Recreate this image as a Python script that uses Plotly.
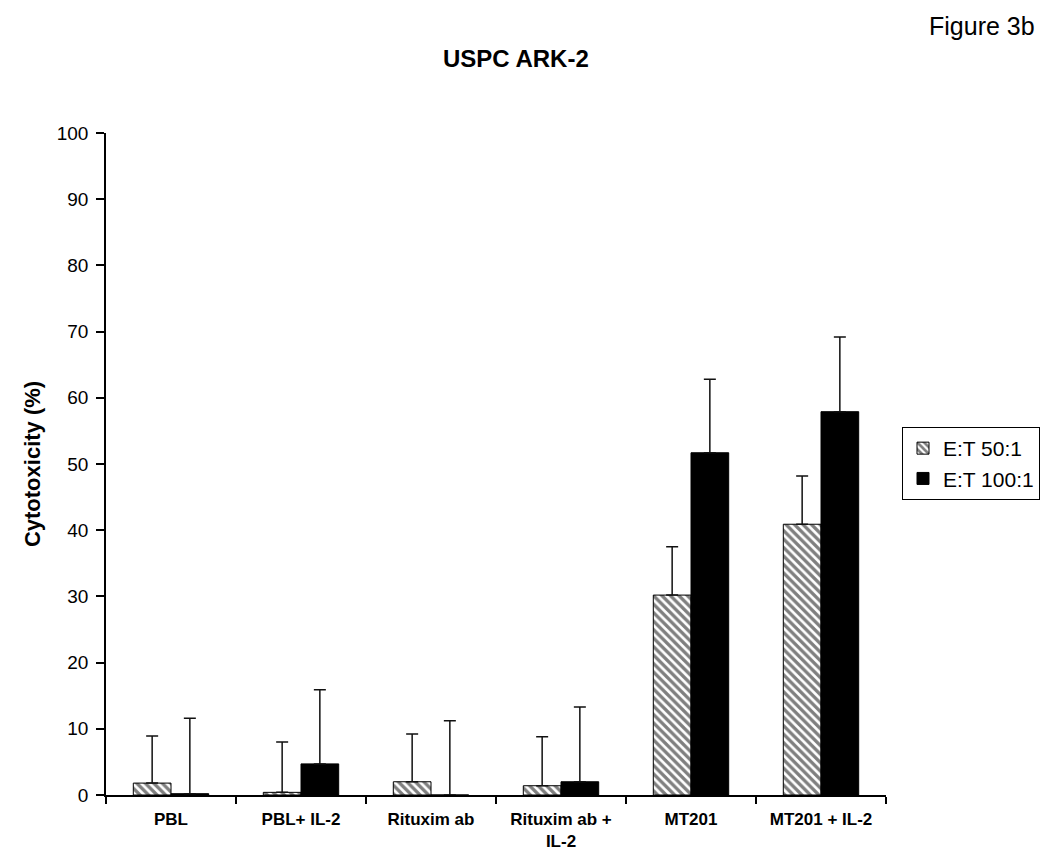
import plotly.graph_objects as go

# --- Data ---
categories = ["PBL", "PBL+ IL-2", "Rituxim ab", "Rituxim ab +<br>IL-2", "MT201", "MT201 + IL-2"]
et50 = [1.8, 0.4, 2.0, 1.4, 30.2, 40.9]
et50_err = [7.1, 7.6, 7.2, 7.4, 7.3, 7.3]
et100 = [0.2, 4.7, 0.0, 2.0, 51.7, 57.9]
et100_err = [11.4, 11.2, 11.2, 11.3, 11.1, 11.3]
y_ticks = [0, 10, 20, 30, 40, 50, 60, 70, 80, 90, 100]

FONT = "Liberation Sans, Arial, sans-serif"

# page body has an 8px margin, so plot area pixels are offset by that
PX0, PY0, PW, PH = 106, 795, 780, 662   # plot area in the screenshot


def px(x):
    return (x - PX0) / PW


def py(y):
    return (PY0 - y) / PH


fig = go.Figure()
fig.add_bar(
    x=categories, y=et50, name="E:T 50:1",
    marker=dict(color="white", line=dict(color="black", width=1),
                pattern=dict(shape="\\", fgcolor="black", bgcolor="white", size=6, solidity=0.55)),
    error_y=dict(type="data", array=et50_err, symmetric=False, arrayminus=[0] * 6,
                 color="#111", thickness=1.5, width=6),
)
fig.add_bar(
    x=categories, y=et100, name="E:T 100:1",
    marker=dict(color="black", line=dict(color="black", width=1)),
    error_y=dict(type="data", array=et100_err, symmetric=False, arrayminus=[0] * 6,
                 color="#111", thickness=1.5, width=6),
)

fig.update_layout(
    width=1050, height=866,
    plot_bgcolor="white", paper_bgcolor="white",
    barmode="group", bargap=0.42, bargroupgap=0,
    margin=dict(l=98, r=172, t=125, b=79),
    font=dict(family=FONT, color="black"),
    showlegend=True,
    legend=dict(x=px(902), y=py(427), xanchor="left", yanchor="top",
                bordercolor="black", borderwidth=1, bgcolor="white",
                font=dict(size=21, family=FONT), itemwidth=30, tracegroupgap=0),
    annotations=[
        dict(text="<b>USPC ARK-2</b>", x=px(516), y=py(58), xref="paper", yref="paper",
             yanchor="middle", showarrow=False, font=dict(size=24, family=FONT)),
        dict(text="Figure 3b", x=px(1036), y=py(26), xref="paper", yref="paper",
             xanchor="right", yanchor="middle", showarrow=False, borderpad=0,
             font=dict(size=25, family=FONT)),
    ],
)

fig.update_xaxes(
    showline=True, linecolor="black", linewidth=1.5,
    ticks="outside", tickson="boundaries", ticklen=7, tickcolor="black", tickwidth=1.5,
    tickfont=dict(size=17, family=FONT), showgrid=False, ticklabelstandoff=8,
    tickprefix="<b>", ticksuffix="</b>",
)
fig.update_yaxes(
    range=[0, 100], tickvals=y_ticks, showline=True, linecolor="black", linewidth=1.5,
    ticks="outside", ticklen=8, tickcolor="black", tickwidth=1.5, showgrid=False,
    tickfont=dict(size=19, family=FONT), tickprefix="<b>", ticksuffix="</b>",
    ticklabelstandoff=4,
    title=dict(text="<b>Cytotoxicity (%)</b>", font=dict(size=22, family=FONT), standoff=10),
    zeroline=False,
)

fig.write_html("out.html")
